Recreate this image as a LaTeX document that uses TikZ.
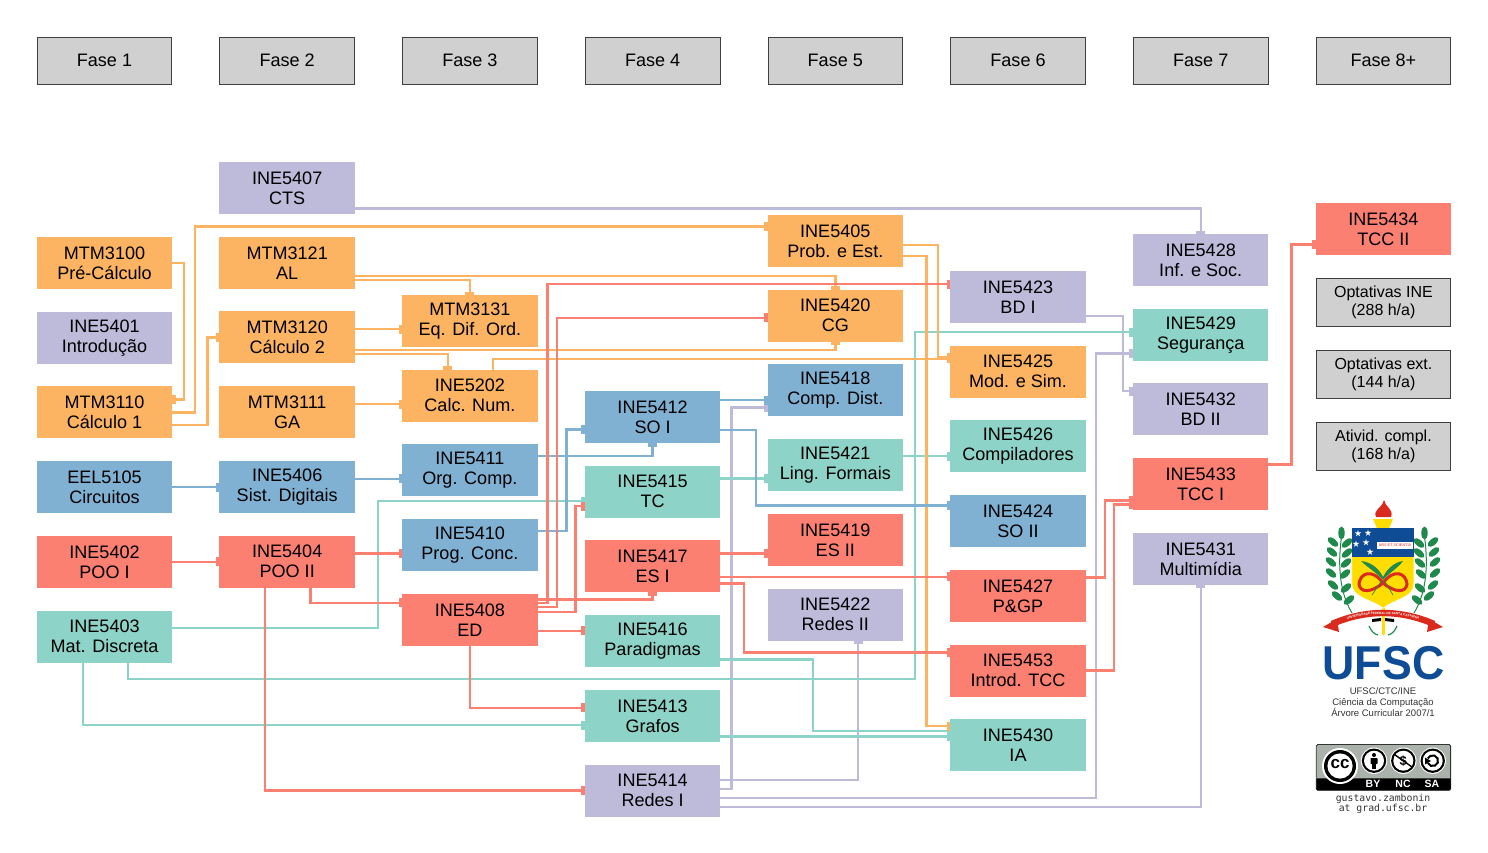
\documentclass[tikz,border=0pt]{standalone}
\usepackage{fontspec}
\setmainfont{Liberation Sans}
\newfontfamily\badgemono{DejaVu Sans Mono}
\usetikzlibrary{arrows.meta, positioning, decorations.text}
\definecolor{corange}{HTML}{FDB462}
\definecolor{cpurple}{HTML}{BEBADA}
\definecolor{cgreen}{HTML}{8DD3C7}
\definecolor{cred}{HTML}{FB8072}
\definecolor{cblue}{HTML}{80B1D3}
\definecolor{cgrey}{HTML}{D0D0D0}
\definecolor{ufscblue}{HTML}{0F4C96}
\definecolor{ufscgreen}{HTML}{1F8A4C}
\definecolor{ufscyellow}{HTML}{FFDD00}
\definecolor{ufscred}{HTML}{DA2A1E}
\definecolor{ccgrey}{HTML}{AAB2AB}
\newcommand{\crestStar}[1]{\fill[white, shift={#1}] (-90:3.4) -- (54:3.4) -- (198:3.4) -- (-18:3.4) -- (126:3.4) -- cycle;}

\begin{document}
\begin{tikzpicture}[
    x=1pt, y=-1pt,
    node distance=22.7pt and 47.2pt,
    course/.style={fill=#1, minimum width=135.5pt, minimum height=52pt, inner sep=0pt, outer sep=0pt, align=center, font=\fontsize{18.05}{20}\selectfont},
    fase/.style={fill=cgrey, draw=black!75, line width=.8pt, minimum width=134.7pt, minimum height=47.2pt, inner sep=0pt, outer sep=.4pt, text depth=2pt, font=\fontsize{18.05}{20}\selectfont},
    extra/.style={fill=cgrey, draw=black!75, line width=.8pt, minimum width=134.7pt, minimum height=48.2pt, inner sep=0pt, outer sep=.4pt, align=center, font=\fontsize{16}{18}\selectfont},
    link/.style={draw=#1, line width=2.4pt, -{Rectangle[length=3.5pt,width=9pt]}},
    leaf/.style={fill=ufscgreen},
    ccicon/.style={fill=black}
]
\useasboundingbox (0,0) rectangle (1488,853);

\node[fase] (fase1) at (104.5,61) {Fase 1};
\node[fase] (fase2) [right=of fase1] {Fase 2};
\node[fase] (fase3) [right=of fase2] {Fase 3};
\node[fase] (fase4) [right=of fase3] {Fase 4};
\node[fase] (fase5) [right=of fase4] {Fase 5};
\node[fase] (fase6) [right=of fase5] {Fase 6};
\node[fase] (fase7) [right=of fase6] {Fase 7};
\node[fase] (fase8) [right=of fase7] {Fase 8+};

\node[course=corange] (mtm3100) [below=152pt of fase1] {MTM3100\\Pré-Cálculo};
\node[course=cpurple] (ine5401) [below=of mtm3100] {INE5401\\Introdução};
\node[course=corange] (mtm3110) [below=of ine5401] {MTM3110\\Cálculo 1};
\node[course=cblue] (eel5105) [below=of mtm3110] {EEL5105\\Circuitos};
\node[course=cred] (ine5402) [below=of eel5105] {INE5402\\POO I};
\node[course=cgreen] (ine5403) [below=of ine5402] {INE5403\\Mat. Discreta};

\node[course=cpurple] (ine5407) [below=77pt of fase2] {INE5407\\CTS};
\node[course=corange] (mtm3121) [below=of ine5407] {MTM3121\\AL};
\node[course=corange] (mtm3120) [below=of mtm3121] {MTM3120\\Cálculo 2};
\node[course=corange] (mtm3111) [below=of mtm3120] {MTM3111\\GA};
\node[course=cblue] (ine5406) [below=of mtm3111] {INE5406\\Sist. Digitais};
\node[course=cred] (ine5404) [below=of ine5406] {INE5404\\POO II};

\node[course=corange] (mtm3131) [below=210pt of fase3] {MTM3131\\Eq. Dif. Ord.};
\node[course=corange] (ine5202) [below=of mtm3131] {INE5202\\Calc. Num.};
\node[course=cblue] (ine5411) [below=of ine5202] {INE5411\\Org. Comp.};
\node[course=cblue] (ine5410) [below=of ine5411] {INE5410\\Prog. Conc.};
\node[course=cred] (ine5408) [below=of ine5410] {INE5408\\ED};

\node[course=cblue] (ine5412) [below=306pt of fase4] {INE5412\\SO I};
\node[course=cgreen] (ine5415) [below=of ine5412] {INE5415\\TC};
\node[course=cred] (ine5417) [below=of ine5415] {INE5417\\ES I};
\node[course=cgreen] (ine5416) [below=of ine5417] {INE5416\\Paradigmas};
\node[course=cgreen] (ine5413) [below=of ine5416] {INE5413\\Grafos};
\node[course=cpurple] (ine5414) [below=of ine5413] {INE5414\\Redes I};

\node[course=corange] (ine5405) [below=130pt of fase5] {INE5405\\Prob. e Est.};
\node[course=corange] (ine5420) [below=of ine5405] {INE5420\\CG};
\node[course=cblue] (ine5418) [below=of ine5420] {INE5418\\Comp. Dist.};
\node[course=cgreen] (ine5421) [below=of ine5418] {INE5421\\Ling. Formais};
\node[course=cred] (ine5419) [below=of ine5421] {INE5419\\ES II};
\node[course=cpurple] (ine5422) [below=of ine5419] {INE5422\\Redes II};

\node[course=cpurple] (ine5423) [below=186pt of fase6] {INE5423\\BD I};
\node[course=corange] (ine5425) [below=of ine5423] {INE5425\\Mod. e Sim.};
\node[course=cgreen] (ine5426) [below=of ine5425] {INE5426\\Compiladores};
\node[course=cblue] (ine5424) [below=of ine5426] {INE5424\\SO II};
\node[course=cred] (ine5427) [below=of ine5424] {INE5427\\P\&GP};
\node[course=cred] (ine5453) [below=of ine5427] {INE5453\\Introd. TCC};
\node[course=cgreen] (ine5430) [below=of ine5453] {INE5430\\IA};

\node[course=cpurple] (ine5428) [below=149pt of fase7] {INE5428\\Inf. e Soc.};
\node[course=cgreen] (ine5429) [below=of ine5428] {INE5429\\Segurança};
\node[course=cpurple] (ine5432) [below=of ine5429] {INE5432\\BD II};
\node[course=cred] (ine5433) [below=of ine5432] {INE5433\\TCC I};
\node[course=cpurple] (ine5431) [below=of ine5433] {INE5431\\Multimídia};

\node[course=cred] (ine5434) [below=118pt of fase8] {INE5434\\TCC II};
\node[extra] (optine) [below=23pt of ine5434] {Optativas INE\\(288 h/a)};
\node[extra] (optext) [below=23pt of optine] {Optativas ext.\\(144 h/a)};
\node[extra] (ativid) [below=23pt of optext] {Ativid. compl.\\(168 h/a)};

\draw[link=cpurple] ([yshift=-20.5pt]ine5407.east) -| (ine5428.north);
\draw[link=cpurple] ([yshift=-18.7pt]ine5423.east) -- ++(37.3,0) |- ([yshift=18.2pt]ine5432.west);
\draw[link=cpurple] ([yshift=1.7pt]ine5414.east) -- ++(11.1,0) |- ([yshift=-17.1pt]ine5418.west);
\draw[link=cpurple] ([yshift=10.7pt]ine5414.east) -| ([xshift=22.75pt]ine5422.south);
\draw[link=cpurple] ([yshift=-7.3pt]ine5414.east) -- ++(375.4,0) |- ([yshift=-18.7pt]ine5429.west);
\draw[link=cpurple] ([yshift=-16.3pt]ine5414.east) -| (ine5431.south);

\draw[link=cgreen] ([yshift=8.3pt]ine5403.east) -- ++(205.5,0) |- ([yshift=-9.4pt]ine5415.west);
\draw[link=cgreen] ([xshift=23.25pt]ine5403.south) |- (915,678.7) |- ([yshift=2.6pt]ine5429.west);
\draw[link=cgreen] ([xshift=-21.75pt]ine5403.south) |- ([yshift=-9.3pt]ine5413.west);
\draw[link=cgreen] ([yshift=13.3pt]ine5415.east) -- ([yshift=13.3pt]ine5415.east -| ine5421.west);
\draw[link=cgreen] ([yshift=9.1pt]ine5421.east) -- ([yshift=9.1pt]ine5421.east -| ine5426.west);
\draw[link=cgreen] ([yshift=-18.2pt]ine5416.east) -- ++(92.4,0) |- ([yshift=14.3pt]ine5430.west);
\draw[link=cgreen] ([yshift=-20.6pt]ine5413.east) -- ([yshift=-20.6pt]ine5413.east -| ine5430.west);

\draw[link=corange] (mtm3100.east) -- ++(11.5,0) |- ([yshift=13pt]mtm3110.east);
\draw[link=corange] (mtm3110.east) -- ++(23,0) |- ([yshift=14.5pt]ine5405.west);
\draw[link=corange] ([yshift=-12.5pt]mtm3110.east) -- ++(35.2,0) |- (mtm3120.west);
\draw[link=corange] ([yshift=-17pt]mtm3121.east) -| (mtm3131.north);
\draw[link=corange] ([yshift=-13.4pt]mtm3121.east) -| (ine5420.north);
\draw[link=corange] ([yshift=8.2pt]mtm3120.east) -- ([yshift=8.2pt]mtm3120.east -| mtm3131.west);
\draw[link=corange] ([yshift=-12.8pt]mtm3120.east) -| (ine5420.south);
\draw[link=corange] ([yshift=-16.8pt]mtm3120.east) -| ([xshift=-22pt]ine5202.north);
\draw[link=corange] ([xshift=23pt]ine5202.north) |- ([yshift=13pt]ine5425.west);
\draw[link=corange] ([yshift=8.1pt]mtm3111.east) -- ([yshift=8.1pt]mtm3111.east -| ine5202.west);
\draw[link=corange] ([yshift=-4pt]ine5405.east) -- ++(34.7,0) |- ([yshift=14.6pt]ine5425.west);
\draw[link=corange] ([yshift=-15pt]ine5405.east) -- ++(23.4,0) |- ([yshift=19pt]ine5430.west);

\draw[link=cblue] (eel5105.east) -- (eel5105.east -| ine5406.west);
\draw[link=cblue] ([yshift=7.9pt]ine5406.east) -- ([yshift=7.9pt]ine5406.east -| ine5411.west);
\draw[link=cblue] ([yshift=14.2pt]ine5411.east) -| (ine5412.south);
\draw[link=cblue] ([yshift=14.1pt]ine5410.east) -- ++(28.8,0) |- ([yshift=-12.3pt]ine5412.west);
\draw[link=cblue] ([yshift=17pt]ine5412.east) -- ([yshift=17pt]ine5412.east -| ine5418.west);
\draw[link=cblue] ([yshift=-13pt]ine5412.east) -- ++(35.4,0) |- ([yshift=15.5pt]ine5424.west);

\draw[link=cred] (ine5402.east) -- (ine5402.east -| ine5404.west);
\draw[link=cred] ([yshift=8pt]ine5404.east) -- ([yshift=8pt]ine5404.east -| ine5410.west);
\draw[link=cred] ([xshift=23.25pt]ine5404.south) |- ([yshift=17.1pt]ine5408.west);
\draw[link=cred] ([xshift=-22.15pt]ine5404.south) |- (ine5414.west);
\draw[link=cred] ([yshift=17.1pt]ine5408.east) -- ++(9.8,0) |- ([yshift=13pt]ine5423.west);
\draw[link=cred] ([yshift=12.7pt]ine5408.east) -- ++(19.6,0) |- ([yshift=-2pt]ine5420.west);
\draw[link=cred] ([yshift=20.4pt]ine5408.east) -| (ine5417.south);
\draw[link=cred] ([yshift=7.7pt]ine5408.east) -- ++(38,0) |- ([yshift=-14.4pt]ine5415.west);
\draw[link=cred] ([yshift=-10.9pt]ine5408.east) -- ([yshift=-10.9pt]ine5408.east -| ine5416.west);
\draw[link=cred] (ine5408.south) |- ([yshift=8.1pt]ine5413.west);
\draw[link=cred] ([yshift=12.9pt]ine5417.east) -- ([yshift=12.9pt]ine5417.east -| ine5419.west);
\draw[link=cred] ([yshift=-10.5pt]ine5417.east) -- ([yshift=-10.5pt]ine5417.east -| ine5427.west);
\draw[link=cred] ([yshift=-17.1pt]ine5417.east) -- ++(23.4,0) |- ([yshift=18pt]ine5453.west);
\draw[link=cred] ([yshift=18.4pt]ine5427.east) -- ++(19,0) |- ([yshift=-16.2pt]ine5433.west);
\draw[link=cred] (ine5453.east) -- ++(28.3,0) |- ([yshift=-20.2pt]ine5433.west);
\draw[link=cred] ([yshift=19.5pt]ine5433.east) -- ++(23,0) |- ([yshift=-15.3pt]ine5434.west);

\draw[ufscyellow, line width=3pt, line cap=round] (1383,600) -- (1383,634);
\fill[ufscyellow] (1373,519) -- (1393,519) -- (1389,528.5) -- (1377,528.5) -- cycle;
\fill[ufscred] (1376,517) .. controls (1373,509) and (1381,510) .. (1384,500) .. controls (1385,507) and (1394,509) .. (1391,517) -- cycle;
\fill[ufscyellow, draw=white, line width=.6pt] (1351.7,528.3) -- (1414,528.3) -- (1414,584) .. controls (1414,598) and (1392,600) .. (1383,608.3) .. controls (1374,600) and (1351.7,598) .. (1351.7,584) -- cycle;
\fill[ufscblue] (1351.7,528.3) rectangle (1414,556.7);
\crestStar{(1358,533.5)}
\crestStar{(1368,533)}
\crestStar{(1356,544)}
\crestStar{(1366,542.5)}
\crestStar{(1370,552)}
\node[fill=white, text=ufscred, minimum width=36pt, minimum height=7pt, inner sep=0pt, font=\fontsize{3.8}{4}\selectfont] (crestmotto) at (1395,545.5) {ARS ET SCIENTIA};
\draw[ufscred, line width=3pt] (1383,583) .. controls (1372,568) and (1360,573) .. (1359,584) .. controls (1360,593) and (1371,593) .. (1383,583) .. controls (1395,593) and (1406,593) .. (1407,584) .. controls (1406,573) and (1394,568) .. (1383,583);
\fill[ufscgreen] (1361,561) .. controls (1370,562) and (1378,567) .. (1383,577) .. controls (1388,567) and (1396,562) .. (1403,561) .. controls (1398,568) and (1390,572) .. (1383,580) .. controls (1376,572) and (1368,568) .. (1361,561) -- cycle;
\draw[ufscgreen, line width=.7pt] (1382,580) -- (1372,595) (1384,580) -- (1393,595);
\foreach \s in {1,-1} {
\begin{scope}[shift={(1383,0)}, xscale=\s]
\draw[ufscgreen, line width=1pt] (-31,613) .. controls (-45,590) and (-45,560) .. (-41,533);
\foreach \lx/\ly in {-50/542, -51/552, -52/562, -52/573, -50/585, -46/596} {
\fill[leaf, rotate around={-40:(\lx,\ly)}] (\lx,\ly) ellipse (6.5 and 3.2);
}
\foreach \lx/\ly in {-36/543, -36/553, -37/563, -38/574, -37/588, -34/600} {
\fill[leaf, rotate around={40:(\lx,\ly)}] (\lx,\ly) ellipse (6.5 and 3.2);
}
\fill[leaf] (-41.5,533) ellipse (3.2 and 6.5);
\fill[ufscred] (-60,627) -- (-46,619) -- (-44,632) -- cycle;
\fill[black] (-11,619) -- (-2,618) -- (-2,621) -- (-11,622) -- cycle;
\draw[ufscgreen, line width=1.2pt] (-14,626) .. controls (-12,630) and (-10,634) .. (-5,635);
\end{scope}
}
\draw[ufscred, line width=6.4pt] (1332,624) .. controls (1350,616) and (1368,613) .. (1383,613) .. controls (1398,613) and (1416,616) .. (1434,624);
\path[decorate, decoration={text along path, text align=center, text={|\fontsize{3.1}{3}\bfseries\selectfont\color{white}|UNIVERSIDADE FEDERAL DE SANTA CATARINA}}] (1332,625) .. controls (1350,617) and (1368,614) .. (1383,614) .. controls (1398,614) and (1416,617) .. (1434,625);

\node[text=ufscblue, inner sep=0pt, font=\fontsize{47.5}{48}\bfseries\selectfont] (ufsclogo) at (1383.5,663) {\scalebox{.94}[1]{UFSC}};
\node[text=black!80, inner sep=0pt, align=center, font=\fontsize{9.5}{10.8}\selectfont] (ufsccaption) at (1383,702) {UFSC/CTC/INE\\Ciência da Computação\\Árvore Curricular 2007/1};

\fill[ccgrey, draw=black!80, line width=.8pt, rounded corners=1.5pt] (1316.3,744.4) rectangle (1450.6,790.3);
\fill[black, rounded corners=1pt] (1316.3,778.3) rectangle (1450.6,790.3);
\fill[white] (1340,766) circle (18);
\fill[black] (1340,766) circle (16);
\fill[white] (1340,766) circle (12.6);
\node[inner sep=0pt, font=\fontsize{17}{17}\bfseries\selectfont] (ccmark) at (1340,764.5) {cc};
\foreach \cx in {1374,1403.3,1432.7} {
\fill[white] (\cx,760.7) circle (13.2);
\fill[black] (\cx,760.7) circle (12.2);
\fill[white] (\cx,760.7) circle (10);
}
\fill[ccicon] (1374,755) circle (2);
\fill[ccicon, rounded corners=.6pt] (1370.5,758) rectangle (1377.5,764);
\fill[ccicon] (1372,763) rectangle (1376,769);
\node[inner sep=0pt, font=\fontsize{13}{13}\bfseries\selectfont] (ncmark) at (1403.3,760.7) {\$};
\draw[black, line width=1.4pt] (1394.5,754.5) -- (1412,767);
\draw[black, line width=2pt] (1427.8,763) arc (155:-155:5.4);
\fill[black] (1425,757.5) -- (1431,761) -- (1425,764.5) -- cycle;
\node[text=white, inner sep=0pt, font=\fontsize{10.5}{11}\bfseries\selectfont] (bylabel) at (1373,784) {BY};
\node[text=white, inner sep=0pt, font=\fontsize{10.5}{11}\bfseries\selectfont] (nclabel) at (1403,784) {NC};
\node[text=white, inner sep=0pt, font=\fontsize{10.5}{11}\bfseries\selectfont] (salabel) at (1432,784) {SA};
\node[text=black!80, inner sep=0pt, align=center, font=\badgemono\fontsize{9.8}{10}\selectfont] (ccauthor) at (1383,804) {gustavo.zambonin\\at grad.ufsc.br};
\end{tikzpicture}
\end{document}
